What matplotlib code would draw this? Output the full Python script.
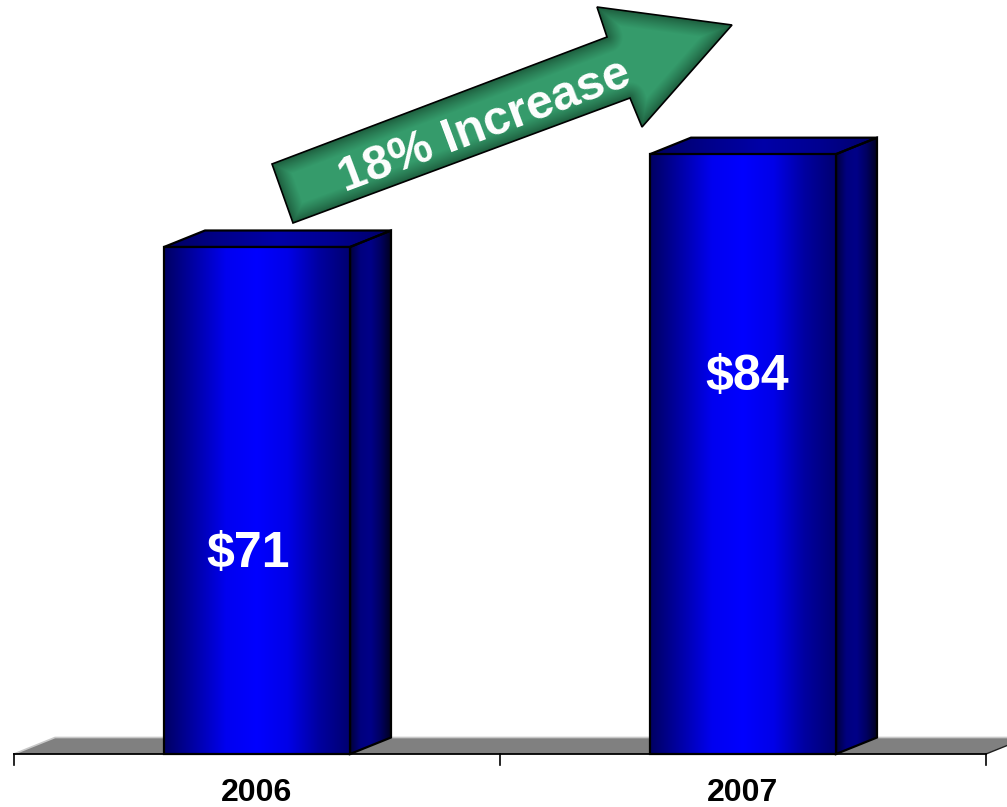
import numpy as np
import matplotlib
matplotlib.use("Agg")
import matplotlib.pyplot as plt
from matplotlib.colors import LinearSegmentedColormap, to_rgb
from matplotlib.patches import Polygon

# ---- data -------------------------------------------------------------
years = ["2006", "2007"]
revenue = [71, 84]
value_labels = ["$71", "$84"]
growth_label = "18% Increase"

# ---- layout -----------------------------------------------------------
W, H = 1007, 807
PX_X = 486.0          # pixels per category slot
PX_Y = 507.0 / 71.0   # pixels per value unit
LEFT_PX, BASE_PX = 14, 754
label_heights = [28.0, 52.8]     # value-label positions inside each bar
label_shift = [-0.018, 0.008]    # small horizontal nudge of each value label

FONT = "Liberation Sans"

fig = plt.figure(figsize=(W / 100, H / 100), dpi=100)
fig.patch.set_facecolor("white")
ax = fig.add_axes([0, 0, 1, 1])
ax.axis("off")

bar_w = 186 / PX_X
dx = 41 / PX_X
dy = 16.5 / PX_Y
xs = np.arange(len(years))

front_cmap = LinearSegmentedColormap.from_list(
    "front", ["#000062", "#0000A8", "#0000F0", "#0000FF", "#0000E8", "#0000A0", "#000070"])
top_cmap = LinearSegmentedColormap.from_list(
    "top", ["#000060", "#00008A", "#0000A8", "#000090", "#000068"])
side_cmap = LinearSegmentedColormap.from_list(
    "side", ["#00003A", "#00007E", "#000088", "#000060", "#000020"])

grad = np.linspace(0, 1, 256)[None, :]


def shaded_face(poly_pts, cmap, extent, z):
    outline = Polygon(poly_pts, closed=True, fill=False, edgecolor="black",
                      linewidth=1.6, joinstyle="miter", zorder=z + 0.5)
    ax.add_patch(outline)
    im = ax.imshow(grad, cmap=cmap, extent=extent, aspect="auto",
                   origin="lower", interpolation="bicubic", zorder=z)
    im.set_clip_path(outline)


# floor
x_a, x_b = -0.5, len(years) - 0.5
floor = Polygon([(x_a, 0), (x_b, 0), (x_b + dx, dy), (x_a + dx, dy)],
                closed=True, facecolor="#808080", edgecolor="none", zorder=1)
ax.add_patch(floor)
ax.plot([x_a, x_a + dx, x_b + dx], [0, dy, dy], color="#C8C8C8", lw=1.2, zorder=1.2)
ax.plot([x_b, x_b + dx], [0, dy], color="#202020", lw=1.0, zorder=1.2)
ax.plot([x_a, x_b], [0, 0], color="black", lw=1.3, zorder=1.3)

# category ticks
tick_len = 11 / PX_Y
for tx in np.arange(x_a, x_b + 0.01, 1.0):
    ax.plot([tx, tx], [0, -tick_len], color="black", lw=1.2, zorder=1.3)

# bars
for i, (x, v) in enumerate(zip(xs, revenue)):
    l, r = x - bar_w / 2, x + bar_w / 2
    shaded_face([(r, 0), (r + dx, dy), (r + dx, v + dy), (r, v)],
                side_cmap, [r, r + dx, 0, v + dy], 3)
    shaded_face([(l, v), (r, v), (r + dx, v + dy), (l + dx, v + dy)],
                top_cmap, [l, r + dx, v, v + dy], 3)
    shaded_face([(l, 0), (r, 0), (r, v), (l, v)],
                front_cmap, [l, r, 0, v], 4)
    ax.text(x + label_shift[i], label_heights[i], value_labels[i], ha="center",
            va="center", color="white", fontsize=36, fontweight="bold",
            family=FONT, zorder=6)
    ax.text(x, -39 / PX_Y, years[i], ha="center", va="center", color="black",
            fontsize=23, fontweight="bold", family=FONT, zorder=6)

y_lo = -(H - BASE_PX) / PX_Y
x_lo = -0.5 - LEFT_PX / PX_X
ax.set_xlim(x_lo, x_lo + W / PX_X)
ax.set_ylim(y_lo, y_lo + H / PX_Y)

# ---- growth arrow (drawn in pixel space) ------------------------------
ax2 = fig.add_axes([0, 0, 1, 1], zorder=5)
ax2.axis("off")
ax2.patch.set_alpha(0)

arrow_pts = np.array([(272, 164), (607, 37), (597, 7), (732, 25),
                      (642, 127), (630, 98), (293, 223)], dtype=float)
gx0, gx1, gy0, gy1 = 255, 745, 0, 235
X, Y = np.meshgrid(np.arange(gx0, gx1) + 0.5, np.arange(gy0, gy1) + 0.5)
dist = np.full(X.shape, np.inf)
for a, b in zip(arrow_pts, np.roll(arrow_pts, -1, axis=0)):
    ab = b - a
    t = np.clip(((X - a[0]) * ab[0] + (Y - a[1]) * ab[1]) / (ab @ ab), 0, 1)
    dist = np.minimum(dist, np.hypot(X - (a[0] + t * ab[0]), Y - (a[1] + t * ab[1])))
f = np.clip(dist / 16.0, 0, 1) ** 0.8
base = np.array(to_rgb("#359B6B"))
dark = np.array(to_rgb("#1C5A3B"))
rgb = dark[None, None, :] * (1 - f[..., None]) + base[None, None, :] * f[..., None]

arrow = Polygon(arrow_pts, closed=True, fill=False, edgecolor="black",
                linewidth=1.2, joinstyle="miter", zorder=3)
ax2.add_patch(arrow)
im = ax2.imshow(rgb, extent=[gx0, gx1, gy1, gy0], origin="upper",
                interpolation="bilinear", aspect="auto", zorder=2)
im.set_clip_path(arrow)
ax2.text(485, 126, growth_label, rotation=20.5, rotation_mode="anchor",
         ha="center", va="center", color="white", fontsize=35,
         fontweight="bold", family=FONT, zorder=4)
ax2.set_xlim(0, W)
ax2.set_ylim(H, 0)

fig.savefig("out.png", dpi=100, facecolor="white")
